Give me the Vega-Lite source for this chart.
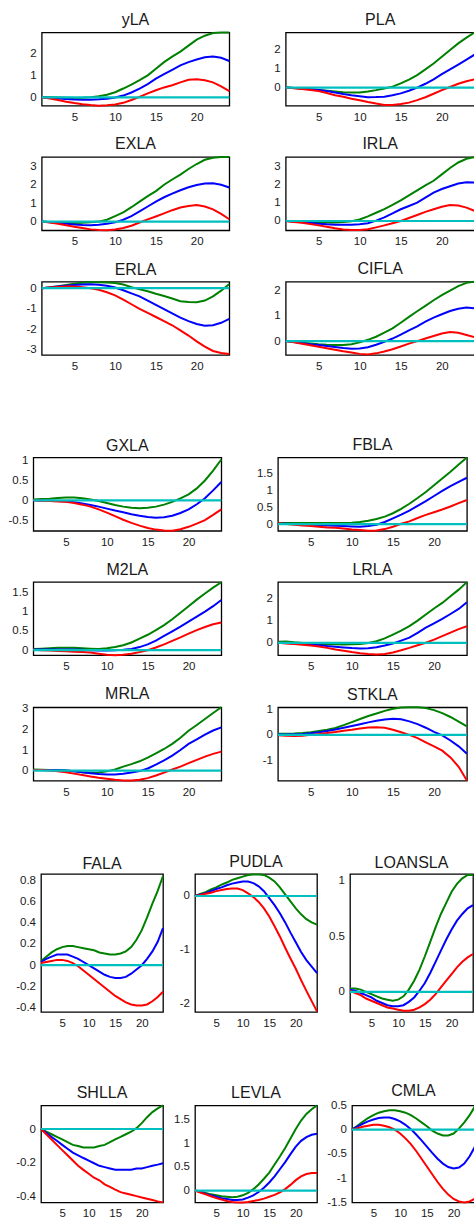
{
"$schema":"https://vega.github.io/schema/vega-lite/v6.json",
"padding":{"left":0,"top":10.4,"right":0,"bottom":0},
"config":{
 "font":"Liberation Sans",
 "view":{"stroke":"#000","strokeWidth":1.3},
 "axis":{"grid":false,"domain":false,"ticks":false,"labelFont":"Liberation Sans","labelFontSize":11.5,"labelColor":"#1a1a1a","labelPadding":5.5,"labelFlush":false,"labelOverlap":false,"labelExpr":"toString(datum.value)","title":null},
 "axisX":{"minExtent":20,"maxExtent":20},
 "axisY":{"minExtent":30,"maxExtent":30},
 "title":{"font":"Liberation Sans","fontSize":16,"fontWeight":"normal","color":"#1a1a1a","offset":0.5,"baseline":"alphabetic","frame":"group","anchor":"middle"},
 "line":{"strokeWidth":2,"clip":true},
 "rule":{"color":"#00bfbf","strokeWidth":2.2}
},
"datasets":{
"yLA":[{"t":1,"g":0,"b":0,"r":0},{"t":2,"g":0,"b":-0.02,"r":-0.05},{"t":3,"g":-0.01,"b":-0.05,"r":-0.12},{"t":4,"g":-0.02,"b":-0.08,"r":-0.2},{"t":5,"g":-0.03,"b":-0.1,"r":-0.26},{"t":6,"g":-0.02,"b":-0.11,"r":-0.31},{"t":7,"g":0,"b":-0.11,"r":-0.35},{"t":8,"g":0.05,"b":-0.09,"r":-0.38},{"t":9,"g":0.12,"b":-0.06,"r":-0.36},{"t":10,"g":0.23,"b":-0.01,"r":-0.33},{"t":11,"g":0.4,"b":0.08,"r":-0.25},{"t":12,"g":0.58,"b":0.22,"r":-0.12},{"t":13,"g":0.78,"b":0.4,"r":0.02},{"t":14,"g":1.0,"b":0.6,"r":0.18},{"t":15,"g":1.3,"b":0.85,"r":0.32},{"t":16,"g":1.6,"b":1.05,"r":0.45},{"t":17,"g":1.85,"b":1.25,"r":0.55},{"t":18,"g":2.08,"b":1.45,"r":0.68},{"t":19,"g":2.35,"b":1.6,"r":0.8},{"t":20,"g":2.62,"b":1.72,"r":0.82},{"t":21,"g":2.8,"b":1.82,"r":0.78},{"t":22,"g":2.92,"b":1.86,"r":0.68},{"t":23,"g":2.95,"b":1.8,"r":0.5},{"t":24,"g":2.95,"b":1.65,"r":0.28}],
"PLA":[{"t":1,"g":0,"b":0,"r":0},{"t":2,"g":-0.02,"b":-0.02,"r":-0.03},{"t":3,"g":-0.05,"b":-0.05,"r":-0.07},{"t":4,"g":-0.08,"b":-0.09,"r":-0.12},{"t":5,"g":-0.12,"b":-0.13,"r":-0.18},{"t":6,"g":-0.16,"b":-0.18,"r":-0.28},{"t":7,"g":-0.2,"b":-0.25,"r":-0.4},{"t":8,"g":-0.24,"b":-0.33,"r":-0.48},{"t":9,"g":-0.25,"b":-0.4,"r":-0.58},{"t":10,"g":-0.25,"b":-0.45,"r":-0.66},{"t":11,"g":-0.2,"b":-0.5,"r":-0.75},{"t":12,"g":-0.13,"b":-0.49,"r":-0.83},{"t":13,"g":-0.05,"b":-0.47,"r":-0.9},{"t":14,"g":0.05,"b":-0.4,"r":-0.9},{"t":15,"g":0.22,"b":-0.3,"r":-0.85},{"t":16,"g":0.42,"b":-0.16,"r":-0.78},{"t":17,"g":0.65,"b":0,"r":-0.65},{"t":18,"g":0.95,"b":0.2,"r":-0.5},{"t":19,"g":1.25,"b":0.43,"r":-0.32},{"t":20,"g":1.6,"b":0.7,"r":-0.13},{"t":21,"g":1.95,"b":0.95,"r":0.03},{"t":22,"g":2.3,"b":1.2,"r":0.2},{"t":23,"g":2.6,"b":1.45,"r":0.33},{"t":24,"g":2.87,"b":1.72,"r":0.43}],
"EXLA":[{"t":1,"g":0,"b":0,"r":0},{"t":2,"g":-0.02,"b":-0.03,"r":-0.05},{"t":3,"g":-0.04,"b":-0.07,"r":-0.12},{"t":4,"g":-0.06,"b":-0.12,"r":-0.2},{"t":5,"g":-0.07,"b":-0.16,"r":-0.28},{"t":6,"g":-0.06,"b":-0.18,"r":-0.35},{"t":7,"g":-0.04,"b":-0.19,"r":-0.42},{"t":8,"g":0,"b":-0.17,"r":-0.46},{"t":9,"g":0.1,"b":-0.12,"r":-0.47},{"t":10,"g":0.3,"b":-0.04,"r":-0.43},{"t":11,"g":0.5,"b":0.1,"r":-0.35},{"t":12,"g":0.78,"b":0.3,"r":-0.22},{"t":13,"g":1.08,"b":0.55,"r":-0.05},{"t":14,"g":1.38,"b":0.82,"r":0.12},{"t":15,"g":1.65,"b":1.08,"r":0.28},{"t":16,"g":2.0,"b":1.32,"r":0.45},{"t":17,"g":2.28,"b":1.52,"r":0.62},{"t":18,"g":2.55,"b":1.7,"r":0.76},{"t":19,"g":2.85,"b":1.86,"r":0.85},{"t":20,"g":3.12,"b":1.98,"r":0.9},{"t":21,"g":3.35,"b":2.06,"r":0.82},{"t":22,"g":3.46,"b":2.08,"r":0.66},{"t":23,"g":3.5,"b":2.0,"r":0.42},{"t":24,"g":3.5,"b":1.85,"r":0.13}],
"IRLA":[{"t":1,"g":0,"b":0,"r":0},{"t":2,"g":-0.02,"b":-0.03,"r":-0.05},{"t":3,"g":-0.04,"b":-0.07,"r":-0.1},{"t":4,"g":-0.06,"b":-0.11,"r":-0.17},{"t":5,"g":-0.08,"b":-0.15,"r":-0.24},{"t":6,"g":-0.09,"b":-0.18,"r":-0.32},{"t":7,"g":-0.09,"b":-0.2,"r":-0.4},{"t":8,"g":-0.06,"b":-0.21,"r":-0.46},{"t":9,"g":-0.02,"b":-0.2,"r":-0.5},{"t":10,"g":0.08,"b":-0.18,"r":-0.5},{"t":11,"g":0.25,"b":-0.12,"r":-0.45},{"t":12,"g":0.45,"b":0.02,"r":-0.35},{"t":13,"g":0.65,"b":0.2,"r":-0.24},{"t":14,"g":0.88,"b":0.42,"r":-0.12},{"t":15,"g":1.13,"b":0.64,"r":0},{"t":16,"g":1.4,"b":0.82,"r":0.16},{"t":17,"g":1.67,"b":1.0,"r":0.33},{"t":18,"g":1.95,"b":1.28,"r":0.5},{"t":19,"g":2.2,"b":1.55,"r":0.64},{"t":20,"g":2.55,"b":1.75,"r":0.78},{"t":21,"g":2.9,"b":1.9,"r":0.87},{"t":22,"g":3.2,"b":2.05,"r":0.85},{"t":23,"g":3.4,"b":2.12,"r":0.73},{"t":24,"g":3.5,"b":2.1,"r":0.55}],
"ERLA":[{"t":1,"g":0,"b":0,"r":0},{"t":2,"g":0.05,"b":0.03,"r":0.03},{"t":3,"g":0.1,"b":0.08,"r":0.06},{"t":4,"g":0.16,"b":0.12,"r":0.08},{"t":5,"g":0.22,"b":0.16,"r":0.08},{"t":6,"g":0.26,"b":0.18,"r":0.05},{"t":7,"g":0.29,"b":0.19,"r":0},{"t":8,"g":0.29,"b":0.17,"r":-0.08},{"t":9,"g":0.28,"b":0.12,"r":-0.2},{"t":10,"g":0.25,"b":0.03,"r":-0.35},{"t":11,"g":0.18,"b":-0.1,"r":-0.55},{"t":12,"g":0.05,"b":-0.25,"r":-0.78},{"t":13,"g":-0.05,"b":-0.4,"r":-1.0},{"t":14,"g":-0.15,"b":-0.6,"r":-1.2},{"t":15,"g":-0.27,"b":-0.81,"r":-1.4},{"t":16,"g":-0.38,"b":-1.02,"r":-1.6},{"t":17,"g":-0.5,"b":-1.22,"r":-1.8},{"t":18,"g":-0.63,"b":-1.43,"r":-2.05},{"t":19,"g":-0.67,"b":-1.6,"r":-2.3},{"t":20,"g":-0.68,"b":-1.74,"r":-2.58},{"t":21,"g":-0.6,"b":-1.82,"r":-2.84},{"t":22,"g":-0.4,"b":-1.8,"r":-3.05},{"t":23,"g":-0.12,"b":-1.68,"r":-3.15},{"t":24,"g":0.2,"b":-1.49,"r":-3.2}],
"CIFLA":[{"t":1,"g":0,"b":0,"r":0},{"t":2,"g":-0.03,"b":-0.04,"r":-0.05},{"t":3,"g":-0.06,"b":-0.08,"r":-0.1},{"t":4,"g":-0.09,"b":-0.12,"r":-0.16},{"t":5,"g":-0.12,"b":-0.15,"r":-0.22},{"t":6,"g":-0.14,"b":-0.19,"r":-0.28},{"t":7,"g":-0.15,"b":-0.23,"r":-0.34},{"t":8,"g":-0.15,"b":-0.27,"r":-0.4},{"t":9,"g":-0.12,"b":-0.3,"r":-0.45},{"t":10,"g":-0.05,"b":-0.29,"r":-0.5},{"t":11,"g":0.05,"b":-0.24,"r":-0.52},{"t":12,"g":0.17,"b":-0.14,"r":-0.48},{"t":13,"g":0.33,"b":-0.03,"r":-0.41},{"t":14,"g":0.5,"b":0.1,"r":-0.32},{"t":15,"g":0.72,"b":0.25,"r":-0.21},{"t":16,"g":0.95,"b":0.42,"r":-0.1},{"t":17,"g":1.17,"b":0.58,"r":0},{"t":18,"g":1.38,"b":0.76,"r":0.1},{"t":19,"g":1.6,"b":0.92,"r":0.2},{"t":20,"g":1.8,"b":1.05,"r":0.3},{"t":21,"g":1.98,"b":1.18,"r":0.36},{"t":22,"g":2.15,"b":1.27,"r":0.33},{"t":23,"g":2.28,"b":1.32,"r":0.24},{"t":24,"g":2.33,"b":1.28,"r":0.15}],
"GXLA":[{"t":1,"g":0.02,"b":0,"r":0},{"t":2,"g":0.03,"b":-0.01,"r":-0.01},{"t":3,"g":0.04,"b":-0.01,"r":-0.02},{"t":4,"g":0.06,"b":-0.02,"r":-0.03},{"t":5,"g":0.07,"b":-0.03,"r":-0.04},{"t":6,"g":0.07,"b":-0.05,"r":-0.07},{"t":7,"g":0.05,"b":-0.08,"r":-0.11},{"t":8,"g":0.02,"b":-0.12,"r":-0.16},{"t":9,"g":-0.02,"b":-0.16,"r":-0.23},{"t":10,"g":-0.07,"b":-0.21,"r":-0.31},{"t":11,"g":-0.12,"b":-0.26,"r":-0.4},{"t":12,"g":-0.16,"b":-0.3,"r":-0.49},{"t":13,"g":-0.19,"b":-0.35,"r":-0.57},{"t":14,"g":-0.2,"b":-0.39,"r":-0.64},{"t":15,"g":-0.19,"b":-0.42,"r":-0.7},{"t":16,"g":-0.16,"b":-0.44,"r":-0.74},{"t":17,"g":-0.11,"b":-0.43,"r":-0.76},{"t":18,"g":-0.04,"b":-0.39,"r":-0.77},{"t":19,"g":0.05,"b":-0.32,"r":-0.73},{"t":20,"g":0.15,"b":-0.23,"r":-0.67},{"t":21,"g":0.3,"b":-0.1,"r":-0.59},{"t":22,"g":0.5,"b":0.05,"r":-0.5},{"t":23,"g":0.75,"b":0.25,"r":-0.37},{"t":24,"g":1.03,"b":0.46,"r":-0.23}],
"FBLA":[{"t":1,"g":0.03,"b":0.01,"r":0.02},{"t":2,"g":0.03,"b":0.01,"r":0},{"t":3,"g":0.03,"b":0,"r":-0.02},{"t":4,"g":0.03,"b":-0.01,"r":-0.04},{"t":5,"g":0.03,"b":-0.02,"r":-0.06},{"t":6,"g":0.03,"b":-0.03,"r":-0.08},{"t":7,"g":0.03,"b":-0.04,"r":-0.1},{"t":8,"g":0.03,"b":-0.05,"r":-0.11},{"t":9,"g":0.03,"b":-0.06,"r":-0.13},{"t":10,"g":0.04,"b":-0.07,"r":-0.16},{"t":11,"g":0.06,"b":-0.08,"r":-0.18},{"t":12,"g":0.1,"b":-0.06,"r":-0.2},{"t":13,"g":0.15,"b":-0.02,"r":-0.19},{"t":14,"g":0.22,"b":0.06,"r":-0.15},{"t":15,"g":0.32,"b":0.17,"r":-0.08},{"t":16,"g":0.45,"b":0.28,"r":0.01},{"t":17,"g":0.6,"b":0.4,"r":0.08},{"t":18,"g":0.77,"b":0.54,"r":0.18},{"t":19,"g":0.95,"b":0.68,"r":0.27},{"t":20,"g":1.15,"b":0.83,"r":0.35},{"t":21,"g":1.35,"b":0.98,"r":0.43},{"t":22,"g":1.55,"b":1.12,"r":0.52},{"t":23,"g":1.76,"b":1.25,"r":0.62},{"t":24,"g":1.97,"b":1.37,"r":0.71}],
"M2LA":[{"t":1,"g":0.03,"b":0.02,"r":0.01},{"t":2,"g":0.04,"b":0.02,"r":0},{"t":3,"g":0.05,"b":0.02,"r":-0.01},{"t":4,"g":0.06,"b":0.02,"r":-0.02},{"t":5,"g":0.06,"b":0.02,"r":-0.03},{"t":6,"g":0.06,"b":0.02,"r":-0.04},{"t":7,"g":0.05,"b":0.01,"r":-0.05},{"t":8,"g":0.04,"b":0,"r":-0.06},{"t":9,"g":0.03,"b":-0.01,"r":-0.09},{"t":10,"g":0.05,"b":-0.01,"r":-0.12},{"t":11,"g":0.08,"b":0,"r":-0.13},{"t":12,"g":0.13,"b":0.01,"r":-0.12},{"t":13,"g":0.2,"b":0.03,"r":-0.09},{"t":14,"g":0.3,"b":0.08,"r":-0.05},{"t":15,"g":0.4,"b":0.15,"r":0},{"t":16,"g":0.52,"b":0.25,"r":0.07},{"t":17,"g":0.65,"b":0.37,"r":0.15},{"t":18,"g":0.8,"b":0.49,"r":0.24},{"t":19,"g":0.97,"b":0.61,"r":0.33},{"t":20,"g":1.14,"b":0.74,"r":0.43},{"t":21,"g":1.31,"b":0.87,"r":0.52},{"t":22,"g":1.47,"b":1.0,"r":0.6},{"t":23,"g":1.62,"b":1.14,"r":0.67},{"t":24,"g":1.76,"b":1.3,"r":0.72}],
"LRLA":[{"t":1,"g":0.05,"b":0,"r":0},{"t":2,"g":0.06,"b":-0.01,"r":-0.03},{"t":3,"g":0.02,"b":-0.03,"r":-0.06},{"t":4,"g":-0.01,"b":-0.05,"r":-0.09},{"t":5,"g":-0.03,"b":-0.08,"r":-0.12},{"t":6,"g":-0.05,"b":-0.11,"r":-0.17},{"t":7,"g":-0.06,"b":-0.15,"r":-0.23},{"t":8,"g":-0.07,"b":-0.18,"r":-0.3},{"t":9,"g":-0.08,"b":-0.21,"r":-0.36},{"t":10,"g":-0.07,"b":-0.24,"r":-0.42},{"t":11,"g":-0.05,"b":-0.26,"r":-0.47},{"t":12,"g":-0.01,"b":-0.25,"r":-0.51},{"t":13,"g":0.07,"b":-0.2,"r":-0.53},{"t":14,"g":0.2,"b":-0.12,"r":-0.51},{"t":15,"g":0.37,"b":-0.03,"r":-0.44},{"t":16,"g":0.55,"b":0.1,"r":-0.34},{"t":17,"g":0.75,"b":0.23,"r":-0.23},{"t":18,"g":1.0,"b":0.45,"r":-0.11},{"t":19,"g":1.28,"b":0.68,"r":0},{"t":20,"g":1.55,"b":0.88,"r":0.14},{"t":21,"g":1.8,"b":1.08,"r":0.3},{"t":22,"g":2.1,"b":1.3,"r":0.46},{"t":23,"g":2.4,"b":1.53,"r":0.62},{"t":24,"g":2.74,"b":1.83,"r":0.75}],
"MRLA":[{"t":1,"g":0.05,"b":0.03,"r":0.03},{"t":2,"g":0.04,"b":0.02,"r":0.02},{"t":3,"g":0.03,"b":0.02,"r":0},{"t":4,"g":0.02,"b":0.01,"r":-0.03},{"t":5,"g":0,"b":0,"r":-0.08},{"t":6,"g":-0.04,"b":-0.04,"r":-0.15},{"t":7,"g":-0.08,"b":-0.09,"r":-0.22},{"t":8,"g":-0.11,"b":-0.13,"r":-0.29},{"t":9,"g":-0.1,"b":-0.17,"r":-0.35},{"t":10,"g":-0.04,"b":-0.19,"r":-0.4},{"t":11,"g":0.05,"b":-0.19,"r":-0.45},{"t":12,"g":0.19,"b":-0.16,"r":-0.49},{"t":13,"g":0.31,"b":-0.1,"r":-0.48},{"t":14,"g":0.45,"b":-0.03,"r":-0.45},{"t":15,"g":0.63,"b":0.1,"r":-0.37},{"t":16,"g":0.84,"b":0.29,"r":-0.24},{"t":17,"g":1.05,"b":0.5,"r":-0.1},{"t":18,"g":1.3,"b":0.73,"r":0.05},{"t":19,"g":1.6,"b":1.0,"r":0.19},{"t":20,"g":1.94,"b":1.3,"r":0.36},{"t":21,"g":2.22,"b":1.52,"r":0.52},{"t":22,"g":2.51,"b":1.75,"r":0.68},{"t":23,"g":2.8,"b":1.95,"r":0.81},{"t":24,"g":3.08,"b":2.1,"r":0.92}],
"STKLA":[{"t":1,"g":0.04,"b":0.01,"r":-0.01},{"t":2,"g":0.04,"b":0.01,"r":-0.03},{"t":3,"g":0.05,"b":0.02,"r":-0.04},{"t":4,"g":0.07,"b":0.03,"r":-0.03},{"t":5,"g":0.1,"b":0.06,"r":0},{"t":6,"g":0.15,"b":0.1,"r":0.03},{"t":7,"g":0.2,"b":0.15,"r":0.07},{"t":8,"g":0.27,"b":0.21,"r":0.11},{"t":9,"g":0.38,"b":0.28,"r":0.16},{"t":10,"g":0.5,"b":0.35,"r":0.2},{"t":11,"g":0.62,"b":0.42,"r":0.25},{"t":12,"g":0.74,"b":0.49,"r":0.29},{"t":13,"g":0.84,"b":0.55,"r":0.3},{"t":14,"g":0.94,"b":0.6,"r":0.28},{"t":15,"g":1.02,"b":0.63,"r":0.2},{"t":16,"g":1.07,"b":0.61,"r":0.1},{"t":17,"g":1.08,"b":0.53,"r":0},{"t":18,"g":1.08,"b":0.42,"r":-0.13},{"t":19,"g":1.05,"b":0.28,"r":-0.29},{"t":20,"g":0.97,"b":0.12,"r":-0.45},{"t":21,"g":0.85,"b":-0.02,"r":-0.62},{"t":22,"g":0.7,"b":-0.22,"r":-0.88},{"t":23,"g":0.52,"b":-0.45,"r":-1.25},{"t":24,"g":0.33,"b":-0.74,"r":-1.79}],
"FALA":[{"t":1,"g":0.04,"b":0.03,"r":0.02},{"t":2,"g":0.08,"b":0.06,"r":0.03},{"t":3,"g":0.12,"b":0.08,"r":0.04},{"t":4,"g":0.15,"b":0.1,"r":0.05},{"t":5,"g":0.17,"b":0.1,"r":0.05},{"t":6,"g":0.18,"b":0.1,"r":0.04},{"t":7,"g":0.18,"b":0.08,"r":0.02},{"t":8,"g":0.17,"b":0.06,"r":-0.01},{"t":9,"g":0.16,"b":0.03,"r":-0.05},{"t":10,"g":0.15,"b":0,"r":-0.09},{"t":11,"g":0.14,"b":-0.03,"r":-0.13},{"t":12,"g":0.12,"b":-0.06,"r":-0.17},{"t":13,"g":0.11,"b":-0.09,"r":-0.21},{"t":14,"g":0.1,"b":-0.11,"r":-0.25},{"t":15,"g":0.1,"b":-0.12,"r":-0.29},{"t":16,"g":0.11,"b":-0.12,"r":-0.32},{"t":17,"g":0.13,"b":-0.11,"r":-0.35},{"t":18,"g":0.17,"b":-0.08,"r":-0.37},{"t":19,"g":0.24,"b":-0.04,"r":-0.38},{"t":20,"g":0.33,"b":0,"r":-0.38},{"t":21,"g":0.45,"b":0.06,"r":-0.37},{"t":22,"g":0.58,"b":0.13,"r":-0.34},{"t":23,"g":0.7,"b":0.22,"r":-0.3},{"t":24,"g":0.84,"b":0.35,"r":-0.25}],
"PUDLA":[{"t":1,"g":0,"b":0,"r":0},{"t":2,"g":0.04,"b":0.03,"r":0.02},{"t":3,"g":0.07,"b":0.05,"r":0.04},{"t":4,"g":0.12,"b":0.09,"r":0.06},{"t":5,"g":0.16,"b":0.13,"r":0.09},{"t":6,"g":0.21,"b":0.16,"r":0.11},{"t":7,"g":0.25,"b":0.2,"r":0.13},{"t":8,"g":0.3,"b":0.23,"r":0.14},{"t":9,"g":0.33,"b":0.25,"r":0.14},{"t":10,"g":0.36,"b":0.27,"r":0.11},{"t":11,"g":0.39,"b":0.27,"r":0.05},{"t":12,"g":0.4,"b":0.24,"r":-0.02},{"t":13,"g":0.4,"b":0.18,"r":-0.11},{"t":14,"g":0.39,"b":0.09,"r":-0.23},{"t":15,"g":0.34,"b":-0.04,"r":-0.38},{"t":16,"g":0.27,"b":-0.17,"r":-0.56},{"t":17,"g":0.16,"b":-0.32,"r":-0.75},{"t":18,"g":0.03,"b":-0.49,"r":-0.96},{"t":19,"g":-0.1,"b":-0.68,"r":-1.16},{"t":20,"g":-0.23,"b":-0.86,"r":-1.35},{"t":21,"g":-0.34,"b":-1.04,"r":-1.56},{"t":22,"g":-0.43,"b":-1.19,"r":-1.76},{"t":23,"g":-0.49,"b":-1.31,"r":-1.95},{"t":24,"g":-0.53,"b":-1.43,"r":-2.14}],
"LOANSLA":[{"t":1,"g":0.03,"b":0.02,"r":0.01},{"t":2,"g":0.03,"b":0.01,"r":-0.01},{"t":3,"g":0.02,"b":-0.01,"r":-0.03},{"t":4,"g":0,"b":-0.03,"r":-0.06},{"t":5,"g":-0.02,"b":-0.05,"r":-0.08},{"t":6,"g":-0.04,"b":-0.08,"r":-0.1},{"t":7,"g":-0.06,"b":-0.1,"r":-0.12},{"t":8,"g":-0.07,"b":-0.12,"r":-0.14},{"t":9,"g":-0.08,"b":-0.13,"r":-0.15},{"t":10,"g":-0.07,"b":-0.13,"r":-0.16},{"t":11,"g":-0.04,"b":-0.12,"r":-0.17},{"t":12,"g":0.02,"b":-0.09,"r":-0.17},{"t":13,"g":0.1,"b":-0.05,"r":-0.16},{"t":14,"g":0.2,"b":0.01,"r":-0.14},{"t":15,"g":0.32,"b":0.08,"r":-0.11},{"t":16,"g":0.45,"b":0.17,"r":-0.07},{"t":17,"g":0.58,"b":0.27,"r":-0.02},{"t":18,"g":0.7,"b":0.37,"r":0.04},{"t":19,"g":0.8,"b":0.47,"r":0.1},{"t":20,"g":0.9,"b":0.56,"r":0.16},{"t":21,"g":0.97,"b":0.64,"r":0.22},{"t":22,"g":1.02,"b":0.7,"r":0.27},{"t":23,"g":1.05,"b":0.75,"r":0.31},{"t":24,"g":1.05,"b":0.78,"r":0.34}],
"SHLLA":[{"t":1,"g":0,"b":0,"r":0},{"t":2,"g":-0.016,"b":-0.023,"r":-0.031},{"t":3,"g":-0.031,"b":-0.047,"r":-0.062},{"t":4,"g":-0.047,"b":-0.07,"r":-0.094},{"t":5,"g":-0.062,"b":-0.094,"r":-0.125},{"t":6,"g":-0.078,"b":-0.117,"r":-0.156},{"t":7,"g":-0.094,"b":-0.14,"r":-0.187},{"t":8,"g":-0.101,"b":-0.156,"r":-0.218},{"t":9,"g":-0.109,"b":-0.172,"r":-0.242},{"t":10,"g":-0.109,"b":-0.187,"r":-0.265},{"t":11,"g":-0.109,"b":-0.203,"r":-0.289},{"t":12,"g":-0.101,"b":-0.218,"r":-0.304},{"t":13,"g":-0.094,"b":-0.226,"r":-0.328},{"t":14,"g":-0.078,"b":-0.234,"r":-0.343},{"t":15,"g":-0.062,"b":-0.242,"r":-0.359},{"t":16,"g":-0.047,"b":-0.242,"r":-0.374},{"t":17,"g":-0.031,"b":-0.242,"r":-0.382},{"t":18,"g":-0.016,"b":-0.242,"r":-0.39},{"t":19,"g":0.005,"b":-0.234,"r":-0.398},{"t":20,"g":0.035,"b":-0.234,"r":-0.406},{"t":21,"g":0.07,"b":-0.226,"r":-0.413},{"t":22,"g":0.1,"b":-0.218,"r":-0.421},{"t":23,"g":0.122,"b":-0.211,"r":-0.429},{"t":24,"g":0.14,"b":-0.203,"r":-0.435}],
"LEVLA":[{"t":1,"g":0,"b":0,"r":0},{"t":2,"g":-0.02,"b":-0.03,"r":-0.04},{"t":3,"g":-0.05,"b":-0.07,"r":-0.08},{"t":4,"g":-0.08,"b":-0.1,"r":-0.12},{"t":5,"g":-0.1,"b":-0.13,"r":-0.16},{"t":6,"g":-0.12,"b":-0.16,"r":-0.19},{"t":7,"g":-0.13,"b":-0.18,"r":-0.22},{"t":8,"g":-0.14,"b":-0.2,"r":-0.24},{"t":9,"g":-0.13,"b":-0.2,"r":-0.25},{"t":10,"g":-0.1,"b":-0.19,"r":-0.25},{"t":11,"g":-0.05,"b":-0.15,"r":-0.24},{"t":12,"g":0.03,"b":-0.1,"r":-0.22},{"t":13,"g":0.13,"b":-0.03,"r":-0.2},{"t":14,"g":0.25,"b":0.06,"r":-0.17},{"t":15,"g":0.38,"b":0.17,"r":-0.13},{"t":16,"g":0.55,"b":0.3,"r":-0.09},{"t":17,"g":0.72,"b":0.45,"r":-0.04},{"t":18,"g":0.9,"b":0.6,"r":0.03},{"t":19,"g":1.1,"b":0.77,"r":0.12},{"t":20,"g":1.3,"b":0.93,"r":0.22},{"t":21,"g":1.48,"b":1.05,"r":0.3},{"t":22,"g":1.62,"b":1.13,"r":0.35},{"t":23,"g":1.72,"b":1.18,"r":0.37},{"t":24,"g":1.8,"b":1.2,"r":0.37}],
"CMLA":[{"t":1,"g":0,"b":0,"r":0},{"t":2,"g":0.08,"b":0.06,"r":0.03},{"t":3,"g":0.16,"b":0.12,"r":0.06},{"t":4,"g":0.24,"b":0.17,"r":0.08},{"t":5,"g":0.3,"b":0.21,"r":0.1},{"t":6,"g":0.35,"b":0.24,"r":0.1},{"t":7,"g":0.38,"b":0.25,"r":0.08},{"t":8,"g":0.4,"b":0.25,"r":0.05},{"t":9,"g":0.4,"b":0.22,"r":0},{"t":10,"g":0.38,"b":0.17,"r":-0.08},{"t":11,"g":0.35,"b":0.1,"r":-0.18},{"t":12,"g":0.3,"b":0.01,"r":-0.3},{"t":13,"g":0.23,"b":-0.1,"r":-0.44},{"t":14,"g":0.15,"b":-0.22,"r":-0.6},{"t":15,"g":0.07,"b":-0.35,"r":-0.76},{"t":16,"g":-0.02,"b":-0.48,"r":-0.92},{"t":17,"g":-0.08,"b":-0.6,"r":-1.08},{"t":18,"g":-0.12,"b":-0.7,"r":-1.22},{"t":19,"g":-0.12,"b":-0.77,"r":-1.34},{"t":20,"g":-0.08,"b":-0.8,"r":-1.43},{"t":21,"g":0.02,"b":-0.78,"r":-1.48},{"t":22,"g":0.15,"b":-0.7,"r":-1.5},{"t":23,"g":0.3,"b":-0.55,"r":-1.48},{"t":24,"g":0.48,"b":-0.35,"r":-1.42}]
},
"spacing":59.1,
"vconcat":[
{"spacing":0.7,"hconcat":[
 {"width":10,"height":1,"view":{"stroke":null},"data":{"values":[]},"mark":"point","encoding":{}},
 {"spacing":8.6,"vconcat":[
  {"spacing":20,"hconcat":[
   {"title":"yLA","width":187.6,"height":73.3,"data":{"name":"yLA"},"layer":[
    {"transform":[{"fold":["g","b","r"],"as":["s","v"]}],"mark":"line","encoding":{"x":{"field":"t","type":"quantitative","scale":{"domain":[1,24],"nice":false,"zero":false},"axis":{"values":[5,10,15,20],"tickCount":20,"labelOverlap":false}},"y":{"field":"v","type":"quantitative","scale":{"domain":[-0.38,2.95],"nice":false,"zero":false},"axis":{"values":[0,1,2],"tickCount":20,"labelOverlap":false}},"color":{"field":"s","type":"nominal","scale":{"domain":["g","b","r"],"range":["#008000","#0000ff","#ff0000"]},"legend":null}}},
    {"data":{"values":[{}]},"mark":"rule","encoding":{"y":{"datum":0}}}]},
   {"title":"PLA","width":189,"height":73.3,"data":{"name":"PLA"},"layer":[
    {"transform":[{"fold":["g","b","r"],"as":["s","v"]}],"mark":"line","encoding":{"x":{"field":"t","type":"quantitative","scale":{"domain":[1,24],"nice":false,"zero":false},"axis":{"values":[5,10,15,20],"tickCount":20,"labelOverlap":false}},"y":{"field":"v","type":"quantitative","scale":{"domain":[-0.94,2.87],"nice":false,"zero":false},"axis":{"values":[0,1,2],"tickCount":20,"labelOverlap":false}},"color":{"field":"s","type":"nominal","scale":{"domain":["g","b","r"],"range":["#008000","#0000ff","#ff0000"]},"legend":null}}},
    {"data":{"values":[{}]},"mark":"rule","encoding":{"y":{"datum":0}}}]}
  ]},
  {"spacing":20,"hconcat":[
   {"title":"EXLA","width":187.6,"height":73.3,"data":{"name":"EXLA"},"layer":[
    {"transform":[{"fold":["g","b","r"],"as":["s","v"]}],"mark":"line","encoding":{"x":{"field":"t","type":"quantitative","scale":{"domain":[1,24],"nice":false,"zero":false},"axis":{"values":[5,10,15,20],"tickCount":20,"labelOverlap":false}},"y":{"field":"v","type":"quantitative","scale":{"domain":[-0.47,3.5],"nice":false,"zero":false},"axis":{"values":[0,1,2,3],"tickCount":20,"labelOverlap":false}},"color":{"field":"s","type":"nominal","scale":{"domain":["g","b","r"],"range":["#008000","#0000ff","#ff0000"]},"legend":null}}},
    {"data":{"values":[{}]},"mark":"rule","encoding":{"y":{"datum":0}}}]},
   {"title":"IRLA","width":189,"height":73.3,"data":{"name":"IRLA"},"layer":[
    {"transform":[{"fold":["g","b","r"],"as":["s","v"]}],"mark":"line","encoding":{"x":{"field":"t","type":"quantitative","scale":{"domain":[1,24],"nice":false,"zero":false},"axis":{"values":[5,10,15,20],"tickCount":20,"labelOverlap":false}},"y":{"field":"v","type":"quantitative","scale":{"domain":[-0.51,3.5],"nice":false,"zero":false},"axis":{"values":[0,1,2,3],"tickCount":20,"labelOverlap":false}},"color":{"field":"s","type":"nominal","scale":{"domain":["g","b","r"],"range":["#008000","#0000ff","#ff0000"]},"legend":null}}},
    {"data":{"values":[{}]},"mark":"rule","encoding":{"y":{"datum":0}}}]}
  ]},
  {"spacing":20,"hconcat":[
   {"title":"ERLA","width":187.6,"height":73.3,"data":{"name":"ERLA"},"layer":[
    {"transform":[{"fold":["g","b","r"],"as":["s","v"]}],"mark":"line","encoding":{"x":{"field":"t","type":"quantitative","scale":{"domain":[1,24],"nice":false,"zero":false},"axis":{"values":[5,10,15,20],"tickCount":20,"labelOverlap":false}},"y":{"field":"v","type":"quantitative","scale":{"domain":[-3.24,0.32],"nice":false,"zero":false},"axis":{"values":[-3,-2,-1,0],"tickCount":20,"labelOverlap":false}},"color":{"field":"s","type":"nominal","scale":{"domain":["g","b","r"],"range":["#008000","#0000ff","#ff0000"]},"legend":null}}},
    {"data":{"values":[{}]},"mark":"rule","encoding":{"y":{"datum":0}}}]},
   {"title":"CIFLA","width":189,"height":73.3,"data":{"name":"CIFLA"},"layer":[
    {"transform":[{"fold":["g","b","r"],"as":["s","v"]}],"mark":"line","encoding":{"x":{"field":"t","type":"quantitative","scale":{"domain":[1,24],"nice":false,"zero":false},"axis":{"values":[5,10,15,20],"tickCount":20,"labelOverlap":false}},"y":{"field":"v","type":"quantitative","scale":{"domain":[-0.54,2.33],"nice":false,"zero":false},"axis":{"values":[0,1,2],"tickCount":20,"labelOverlap":false}},"color":{"field":"s","type":"nominal","scale":{"domain":["g","b","r"],"range":["#008000","#0000ff","#ff0000"]},"legend":null}}},
    {"data":{"values":[{}]},"mark":"rule","encoding":{"y":{"datum":0}}}]}
  ]}
 ]}
]},
{"spacing":51.4,"vconcat":[
 {"spacing":1.3,"hconcat":[
  {"width":1,"height":1,"view":{"stroke":null},"data":{"values":[]},"mark":"point","encoding":{}},
  {"spacing":9.4,"vconcat":[
   {"spacing":20.6,"hconcat":[
    {"title":"GXLA","width":188,"height":73.3,"data":{"name":"GXLA"},"layer":[
     {"transform":[{"fold":["g","b","r"],"as":["s","v"]}],"mark":"line","encoding":{"x":{"field":"t","type":"quantitative","scale":{"domain":[1,24],"nice":false,"zero":false},"axis":{"values":[5,10,15,20],"tickCount":20,"labelOverlap":false}},"y":{"field":"v","type":"quantitative","scale":{"domain":[-0.77,1.08],"nice":false,"zero":false},"axis":{"values":[-0.5,0,0.5,1],"tickCount":20,"labelOverlap":false}},"color":{"field":"s","type":"nominal","scale":{"domain":["g","b","r"],"range":["#008000","#0000ff","#ff0000"]},"legend":null}}},
     {"data":{"values":[{}]},"mark":"rule","encoding":{"y":{"datum":0}}}]},
    {"title":"FBLA","width":189,"height":73.3,"data":{"name":"FBLA"},"layer":[
     {"transform":[{"fold":["g","b","r"],"as":["s","v"]}],"mark":"line","encoding":{"x":{"field":"t","type":"quantitative","scale":{"domain":[1,24],"nice":false,"zero":false},"axis":{"values":[5,10,15,20],"tickCount":20,"labelOverlap":false}},"y":{"field":"v","type":"quantitative","scale":{"domain":[-0.2,1.97],"nice":false,"zero":false},"axis":{"values":[0,0.5,1,1.5],"tickCount":20,"labelOverlap":false}},"color":{"field":"s","type":"nominal","scale":{"domain":["g","b","r"],"range":["#008000","#0000ff","#ff0000"]},"legend":null}}},
     {"data":{"values":[{}]},"mark":"rule","encoding":{"y":{"datum":0}}}]}
   ]},
   {"spacing":20.6,"hconcat":[
    {"title":"M2LA","width":188,"height":73.3,"data":{"name":"M2LA"},"layer":[
     {"transform":[{"fold":["g","b","r"],"as":["s","v"]}],"mark":"line","encoding":{"x":{"field":"t","type":"quantitative","scale":{"domain":[1,24],"nice":false,"zero":false},"axis":{"values":[5,10,15,20],"tickCount":20,"labelOverlap":false}},"y":{"field":"v","type":"quantitative","scale":{"domain":[-0.13,1.77],"nice":false,"zero":false},"axis":{"values":[0,0.5,1,1.5],"tickCount":20,"labelOverlap":false}},"color":{"field":"s","type":"nominal","scale":{"domain":["g","b","r"],"range":["#008000","#0000ff","#ff0000"]},"legend":null}}},
     {"data":{"values":[{}]},"mark":"rule","encoding":{"y":{"datum":0}}}]},
    {"title":"LRLA","width":189,"height":73.3,"data":{"name":"LRLA"},"layer":[
     {"transform":[{"fold":["g","b","r"],"as":["s","v"]}],"mark":"line","encoding":{"x":{"field":"t","type":"quantitative","scale":{"domain":[1,24],"nice":false,"zero":false},"axis":{"values":[5,10,15,20],"tickCount":20,"labelOverlap":false}},"y":{"field":"v","type":"quantitative","scale":{"domain":[-0.56,2.75],"nice":false,"zero":false},"axis":{"values":[0,1,2],"tickCount":20,"labelOverlap":false}},"color":{"field":"s","type":"nominal","scale":{"domain":["g","b","r"],"range":["#008000","#0000ff","#ff0000"]},"legend":null}}},
     {"data":{"values":[{}]},"mark":"rule","encoding":{"y":{"datum":0}}}]}
   ]},
   {"spacing":20.6,"hconcat":[
    {"title":"MRLA","width":188,"height":73.3,"data":{"name":"MRLA"},"layer":[
     {"transform":[{"fold":["g","b","r"],"as":["s","v"]}],"mark":"line","encoding":{"x":{"field":"t","type":"quantitative","scale":{"domain":[1,24],"nice":false,"zero":false},"axis":{"values":[5,10,15,20],"tickCount":20,"labelOverlap":false}},"y":{"field":"v","type":"quantitative","scale":{"domain":[-0.49,3.08],"nice":false,"zero":false},"axis":{"values":[0,1,2,3],"tickCount":20,"labelOverlap":false}},"color":{"field":"s","type":"nominal","scale":{"domain":["g","b","r"],"range":["#008000","#0000ff","#ff0000"]},"legend":null}}},
     {"data":{"values":[{}]},"mark":"rule","encoding":{"y":{"datum":0}}}]},
    {"title":"STKLA","width":189,"height":73.3,"data":{"name":"STKLA"},"layer":[
     {"transform":[{"fold":["g","b","r"],"as":["s","v"]}],"mark":"line","encoding":{"x":{"field":"t","type":"quantitative","scale":{"domain":[1,24],"nice":false,"zero":false},"axis":{"values":[5,10,15,20],"tickCount":20,"labelOverlap":false}},"y":{"field":"v","type":"quantitative","scale":{"domain":[-1.79,1.08],"nice":false,"zero":false},"axis":{"values":[-1,0,1],"tickCount":20,"labelOverlap":false}},"color":{"field":"s","type":"nominal","scale":{"domain":["g","b","r"],"range":["#008000","#0000ff","#ff0000"]},"legend":null}}},
     {"data":{"values":[{}]},"mark":"rule","encoding":{"y":{"datum":0}}}]}
   ]}
  ]}
 ]},
 {"spacing":0,"hconcat":[
  {"width":10,"height":1,"view":{"stroke":null},"data":{"values":[]},"mark":"point","encoding":{}},
  {"spacing":48.5,"vconcat":[
   {"spacing":4,"hconcat":[
    {"title":"FALA","width":122,"height":138,"data":{"name":"FALA"},"layer":[
     {"transform":[{"fold":["g","b","r"],"as":["s","v"]}],"mark":"line","encoding":{"x":{"field":"t","type":"quantitative","scale":{"domain":[1,24],"nice":false,"zero":false},"axis":{"values":[5,10,15,20],"tickCount":20,"labelOverlap":false}},"y":{"field":"v","type":"quantitative","scale":{"domain":[-0.44,0.86],"nice":false,"zero":false},"axis":{"values":[-0.4,-0.2,0,0.2,0.4,0.6,0.8],"tickCount":20,"labelOverlap":false}},"color":{"field":"s","type":"nominal","scale":{"domain":["g","b","r"],"range":["#008000","#0000ff","#ff0000"]},"legend":null}}},
     {"data":{"values":[{}]},"mark":"rule","encoding":{"y":{"datum":0}}}]},
    {"title":"PUDLA","width":122,"height":138,"data":{"name":"PUDLA"},"layer":[
     {"transform":[{"fold":["g","b","r"],"as":["s","v"]}],"mark":"line","encoding":{"x":{"field":"t","type":"quantitative","scale":{"domain":[1,24],"nice":false,"zero":false},"axis":{"values":[5,10,15,20],"tickCount":20,"labelOverlap":false}},"y":{"field":"v","type":"quantitative","scale":{"domain":[-2.15,0.41],"nice":false,"zero":false},"axis":{"values":[-2,-1,0],"tickCount":20,"labelOverlap":false,"minExtent":22,"maxExtent":22}},"color":{"field":"s","type":"nominal","scale":{"domain":["g","b","r"],"range":["#008000","#0000ff","#ff0000"]},"legend":null}}},
     {"data":{"values":[{}]},"mark":"rule","encoding":{"y":{"datum":0}}}]},
    {"title":"LOANSLA","width":123,"height":138,"data":{"name":"LOANSLA"},"layer":[
     {"transform":[{"fold":["g","b","r"],"as":["s","v"]}],"mark":"line","encoding":{"x":{"field":"t","type":"quantitative","scale":{"domain":[1,24],"nice":false,"zero":false},"axis":{"values":[5,10,15,20],"tickCount":20,"labelOverlap":false}},"y":{"field":"v","type":"quantitative","scale":{"domain":[-0.18,1.06],"nice":false,"zero":false},"axis":{"values":[0,0.5,1],"tickCount":20,"labelOverlap":false,"minExtent":23,"maxExtent":23}},"color":{"field":"s","type":"nominal","scale":{"domain":["g","b","r"],"range":["#008000","#0000ff","#ff0000"]},"legend":null}}},
     {"data":{"values":[{}]},"mark":"rule","encoding":{"y":{"datum":0}}}]}
   ]},
   {"spacing":4,"hconcat":[
    {"title":"SHLLA","width":122,"height":97,"data":{"name":"SHLLA"},"layer":[
     {"transform":[{"fold":["g","b","r"],"as":["s","v"]}],"mark":"line","encoding":{"x":{"field":"t","type":"quantitative","scale":{"domain":[1,24],"nice":false,"zero":false},"axis":{"values":[5,10,15,20],"tickCount":20,"labelOverlap":false}},"y":{"field":"v","type":"quantitative","scale":{"domain":[-0.435,0.14],"nice":false,"zero":false},"axis":{"values":[-0.4,-0.2,0],"tickCount":20,"labelOverlap":false}},"color":{"field":"s","type":"nominal","scale":{"domain":["g","b","r"],"range":["#008000","#0000ff","#ff0000"]},"legend":null}}},
     {"data":{"values":[{}]},"mark":"rule","encoding":{"y":{"datum":0}}}]},
    {"title":"LEVLA","width":122,"height":97,"data":{"name":"LEVLA"},"layer":[
     {"transform":[{"fold":["g","b","r"],"as":["s","v"]}],"mark":"line","encoding":{"x":{"field":"t","type":"quantitative","scale":{"domain":[1,24],"nice":false,"zero":false},"axis":{"values":[5,10,15,20],"tickCount":20,"labelOverlap":false}},"y":{"field":"v","type":"quantitative","scale":{"domain":[-0.25,1.8],"nice":false,"zero":false},"axis":{"values":[0,0.5,1,1.5],"tickCount":20,"labelOverlap":false,"minExtent":22,"maxExtent":22}},"color":{"field":"s","type":"nominal","scale":{"domain":["g","b","r"],"range":["#008000","#0000ff","#ff0000"]},"legend":null}}},
     {"data":{"values":[{}]},"mark":"rule","encoding":{"y":{"datum":0}}}]},
    {"title":"CMLA","width":123,"height":97,"data":{"name":"CMLA"},"layer":[
     {"transform":[{"fold":["g","b","r"],"as":["s","v"]}],"mark":"line","encoding":{"x":{"field":"t","type":"quantitative","scale":{"domain":[1,24],"nice":false,"zero":false},"axis":{"values":[5,10,15,20],"tickCount":20,"labelOverlap":false}},"y":{"field":"v","type":"quantitative","scale":{"domain":[-1.5,0.5],"nice":false,"zero":false},"axis":{"values":[-1.5,-1,-0.5,0,0.5],"tickCount":20,"labelOverlap":false,"minExtent":23,"maxExtent":23}},"color":{"field":"s","type":"nominal","scale":{"domain":["g","b","r"],"range":["#008000","#0000ff","#ff0000"]},"legend":null}}},
     {"data":{"values":[{}]},"mark":"rule","encoding":{"y":{"datum":0}}}]}
   ]}
  ]}
 ]}
]}
]
}
